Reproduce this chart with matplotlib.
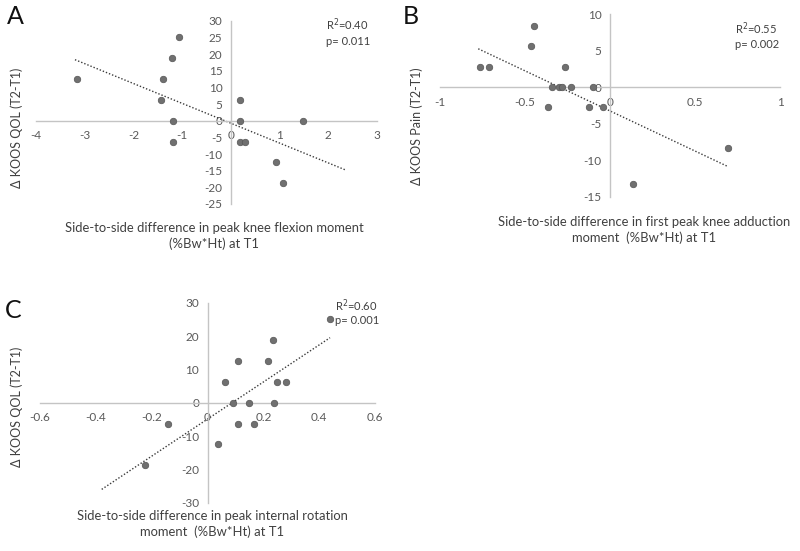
import matplotlib.pyplot as plt
import numpy as np

plt.rcParams['font.family'] = ['Lato', 'DejaVu Sans']
plt.rcParams['axes.unicode_minus'] = False

W, H = 800, 551

# panel A: knee flexion moment vs KOOS QOL
a_x = [-3.16, -1.07, -1.20, -1.39, -1.44, -1.18, -1.18, 0.19, 0.19, 0.19, 0.29, 1.48, 0.93, 1.08]
a_y = [12.5, 25.0, 18.75, 12.5, 6.25, 0.0, -6.25, 6.25, 0.0, -6.25, -6.25, 0.0, -12.5, -18.75]
a_trend_x = [-3.20, 2.34]
a_trend_y = [18.3, -14.7]
a_xticks = [-4, -3, -2, -1, 0, 1, 2, 3]
a_yticks = [-25, -20, -15, -10, -5, 0, 5, 10, 15, 20, 25, 30]

# panel B: first peak knee adduction moment vs KOOS Pain
b_x = [-0.765, -0.71, -0.445, -0.465, -0.265, -0.343, -0.300, -0.284, -0.231, -0.102,
       -0.363, -0.122, -0.043, 0.696, 0.135]
b_y = [2.78, 2.78, 8.33, 5.56, 2.78, 0.0, 0.0, 0.0, 0.0, 0.0,
       -2.78, -2.78, -2.78, -8.33, -13.2]
b_trend_x = [-0.775, 0.696]
b_trend_y = [5.24, -10.9]
b_xticks = [-1, -0.5, 0, 0.5, 1]
b_yticks = [-15, -10, -5, 0, 5, 10]

# panel C: internal rotation moment vs KOOS QOL
c_x = [-0.223, -0.143, 0.039, 0.063, 0.093, 0.111, 0.111, 0.147, 0.165, 0.218,
       0.236, 0.239, 0.248, 0.282, 0.439]
c_y = [-18.75, -6.25, -12.5, 6.25, 0.0, 12.5, -6.25, 0.0, -6.25, 12.5,
       18.75, 0.0, 6.25, 6.25, 25.0]
c_trend_x = [-0.379, 0.439]
c_trend_y = [-26.0, 19.5]
c_xticks = [-0.6, -0.4, -0.2, 0, 0.2, 0.4, 0.6]
c_yticks = [-30, -20, -10, 0, 10, 20, 30]

TXT = '#404040'
TICK = '#595959'
AXIS = '#c4c4c4'


def px_rect(x0, x1, y_top, y_bot):
    return [x0 / W, 1 - y_bot / H, (x1 - x0) / W, (y_bot - y_top) / H]


def ftext(fig, x, y, s, **kw):
    fig.text(x / W, 1 - y / H, s, **kw)


def draw_panel(fig, rect, xs, ys, tx, ty, xticks, yticks):
    ax = fig.add_axes(rect)
    ax.patch.set_alpha(0)
    ax.set_xlim(xticks[0], xticks[-1])
    ax.set_ylim(yticks[0], yticks[-1])
    for side in ('top', 'right'):
        ax.spines[side].set_visible(False)
    for side in ('left', 'bottom'):
        ax.spines[side].set_position(('data', 0))
        ax.spines[side].set_color(AXIS)
        ax.spines[side].set_linewidth(1.0)
    ax.set_xticks(xticks)
    ax.set_xticklabels([f"{v:g}" for v in xticks])
    ax.set_yticks(yticks)
    ax.set_yticklabels([f"{v:g}" for v in yticks])
    ax.tick_params(axis='x', length=0, labelsize=8.5, colors=TICK, pad=7)
    ax.tick_params(axis='y', length=0, labelsize=8.5, colors=TICK, pad=6)
    ax.plot(tx, ty, ls=(0, (1, 1.4)), color='#3a3a3a', lw=1.0, zorder=2)
    ax.scatter(xs, ys, s=22, color='#707070', edgecolor='#555555', lw=0.5,
               zorder=3, clip_on=False)
    return ax


fig = plt.figure(figsize=(W / 100, H / 100), dpi=100)

draw_panel(fig, px_rect(36, 377, 20.7, 204), a_x, a_y, a_trend_x, a_trend_y, a_xticks, a_yticks)
draw_panel(fig, px_rect(440, 780, 14, 196.7), b_x, b_y, b_trend_x, b_trend_y, b_xticks, b_yticks)
draw_panel(fig, px_rect(40, 375, 302.7, 502.7), c_x, c_y, c_trend_x, c_trend_y, c_xticks, c_yticks)

# panel letters
ftext(fig, 7, 17, 'A', fontsize=18, color='#111111', va='center', ha='left')
ftext(fig, 403, 17, 'B', fontsize=18, color='#111111', va='center', ha='left')
ftext(fig, 5, 310, 'C', fontsize=18, color='#111111', va='center', ha='left')

# stats
stat_kw = dict(fontsize=8, color=TXT, ha='left', va='center')
ftext(fig, 326.5, 25, 'R$^2$=0.40', **stat_kw)
ftext(fig, 326.5, 41, 'p= 0.011', **stat_kw)
ftext(fig, 735, 29, 'R$^2$=0.55', **stat_kw)
ftext(fig, 735, 45, 'p= 0.002', **stat_kw)
ftext(fig, 335, 306, 'R$^2$=0.60', **stat_kw)
ftext(fig, 335, 321, 'p= 0.001', **stat_kw)

# axis titles
lab_kw = dict(fontsize=9.4, color=TXT, ha='center', va='center', linespacing=1.3)
ftext(fig, 214, 236, 'Side-to-side difference in peak knee flexion moment\n(%Bw*Ht) at T1', **lab_kw)
ftext(fig, 644, 230, 'Side-to-side difference in first peak knee adduction\nmoment  (%Bw*Ht) at T1', **lab_kw)
ftext(fig, 212, 524, 'Side-to-side difference in peak internal rotation\nmoment  (%Bw*Ht) at T1', **lab_kw)

ylab_kw = dict(fontsize=9, color=TXT, ha='center', va='center', rotation=90)
ftext(fig, 17, 128, 'Δ KOOS QOL (T2-T1)', **ylab_kw)
ftext(fig, 417, 126, 'Δ KOOS Pain (T2-T1)', **ylab_kw)
ftext(fig, 17, 407, 'Δ KOOS QOL (T2-T1)', **ylab_kw)

fig.savefig('out.png', dpi=100)
